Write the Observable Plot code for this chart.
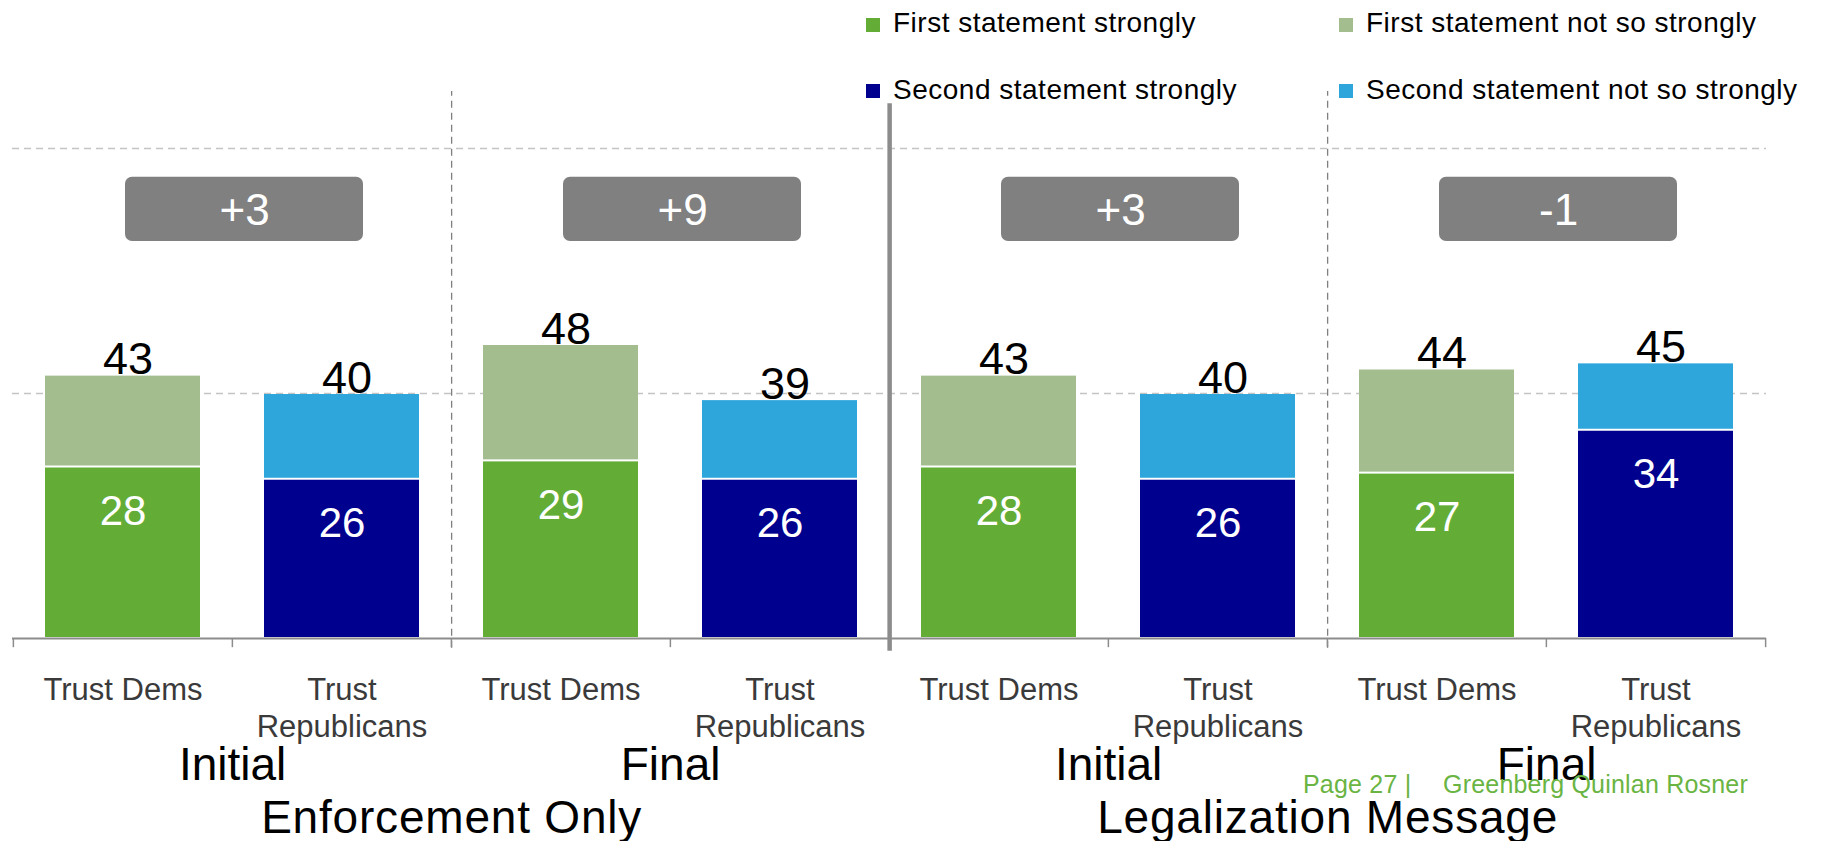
<!DOCTYPE html>
<html>
<head>
<meta charset="utf-8">
<script src="https://cdn.jsdelivr.net/npm/d3@7"></script>
<script src="https://cdn.jsdelivr.net/npm/@observablehq/plot@0.6"></script>
<style>
  html, body { margin: 0; padding: 0; background: #fff; }
  #wrap { position: relative; width: 1822px; height: 841px; overflow: hidden; font-family: "Liberation Sans", Arial, sans-serif; }
  #chart { position: absolute; left: 0; top: 0; }
  .leg { position: absolute; font-size: 28px; line-height: 28px; color: #000; white-space: nowrap; letter-spacing: 0.5px; }
  .sw { position: absolute; width: 14px; height: 14px; }
  .foot { position: absolute; font-size: 25px; line-height: 25px; color: #6ab443; white-space: nowrap; letter-spacing: 0.2px; }
</style>
</head>
<body>
<div id="wrap"><div id="chart"></div></div>
<script>
// ---- data ----
const groups = ["Enforcement Only", "Legalization Message"];
const phases = ["Initial", "Final"];
const parties = ["Trust Dems", "Trust\nRepublicans"];
const series = ["First statement strongly", "First statement not so strongly", "Second statement strongly", "Second statement not so strongly"];
const colors = ["#63ad37", "#a3bd8f", "#00008f", "#2ea6dc"];
const strongly = [28, 26, 29, 26, 28, 26, 27, 34];
const notSoStrongly = [15, 14, 19, 13, 15, 14, 17, 11];
const totals = [43, 40, 48, 39, 43, 40, 44, 45];
const diffs = ["+3", "+9", "+3", "-1"];
const gridValues = [40, 80];
const footerPage = "Page 27 |";
const footerFirm = "Greenberg Quinlan Rosner";

// ---- layout ----
const W = 1822, H = 841, mL = 12, mR = 56, mT = 148, mB = 203;

const keys = [];
groups.forEach(g => phases.forEach(p => parties.forEach(t => keys.push({g, p, t, key: `${g}|${p}|${t}`}))));
const step = (W - mL - mR) / keys.length;

const rows = keys.flatMap((k, i) => {
  const first = i % 2 === 0;
  return [
    {key: k.key, value: strongly[i], series: series[first ? 0 : 2]},
    {key: k.key, value: notSoStrongly[i], series: series[first ? 1 : 3]}
  ];
});
const labels = keys.map((k, i) => ({...k, strong: strongly[i], total: totals[i]}));
const pairs = keys.filter((k, i) => i % 2 === 0).map((k, j) => ({...k, diff: diffs[j]}));
const halves = [keys[1], keys[5]];
const thick = [keys[3]];
const axisGray = "#8c8c8c";

const chart = Plot.plot({
  width: W, height: H,
  marginLeft: mL, marginRight: mR, marginTop: mT, marginBottom: mB,
  x: {domain: keys.map(d => d.key), paddingInner: 0.29, paddingOuter: 0.145, axis: null},
  y: {domain: [0, 80], axis: null},
  color: {domain: series, range: colors},
  style: {fontFamily: "Liberation Sans, Arial, sans-serif", background: "white", overflow: "visible"},
  marks: [
    Plot.ruleY(gridValues, {stroke: "#c4c4c4", strokeWidth: 1.3, strokeDasharray: "7,5"}),
    Plot.ruleX(halves, {x: "key", dx: step / 2, y1: -1.6, y2: 89.3, stroke: "#7f7f7f", strokeWidth: 1.3, strokeDasharray: "7,5"}),
    Plot.ruleX(thick, {x: "key", dx: step / 2, y1: -2.1, y2: 87.3, stroke: axisGray, strokeWidth: 4.5}),
    Plot.barY(rows, {x: "key", y: "value", fill: "series", insetTop: 1, insetBottom: 1}),
    Plot.ruleY([0], {stroke: axisGray, strokeWidth: 2}),
    Plot.ruleX(keys, {x: "key", dx: -step / 2, y1: 0, y2: -1.5, stroke: axisGray, strokeWidth: 1.5}),
    Plot.ruleX([keys[keys.length - 1]], {x: "key", dx: step / 2, y1: 0, y2: -1.5, stroke: axisGray, strokeWidth: 1.5}),
    Plot.text(labels, {x: "key", y: "total", text: d => String(d.total), fontSize: 45, lineAnchor: "bottom", dx: 5, dy: -1, fill: "#000"}),
    Plot.text(labels, {x: "key", y: "strong", text: d => String(d.strong), fontSize: 42, lineAnchor: "bottom", dy: 58, fill: "#fff"}),
    Plot.text(labels, {x: "key", y: 0, text: "t", fontSize: 31, lineAnchor: "top", lineHeight: 1.2, dy: 35, fill: "#3a3a3a"}),
    Plot.text(pairs, {x: "key", y: 0, text: "p", dx: step / 2, fontSize: 46, lineAnchor: "top", dy: 109, fill: "#000"}),
    Plot.text(halves, {x: "key", y: 0, text: "g", dx: step / 2, fontSize: 46, lineAnchor: "top", dy: 162, fill: "#000"}),
    Plot.barY(pairs, {x: "key", y1: 64.8, y2: 75.3, insetLeft: 80, insetRight: -163, rx: 7, fill: "#808080"}),
    Plot.text(pairs, {x: "key", y: 70, text: "diff", dx: step / 2 + 12, dy: 1, fontSize: 44, lineAnchor: "middle", fill: "#fff"})
  ]
});
d3.select(chart).selectAll("text")
  .filter(function() { return groups.includes(this.textContent); })
  .style("letter-spacing", "0.8px");
document.getElementById("chart").appendChild(chart);

// ---- legend (HTML) ----
const wrap = document.getElementById("wrap");
const legPos = [[866, 0], [1339, 0], [866, 1], [1339, 1]];
series.forEach((s, i) => {
  const [x, r] = legPos[i];
  const sw = document.createElement("div");
  sw.className = "sw";
  sw.style.left = x + "px";
  sw.style.top = (r === 0 ? 17.5 : 84) + "px";
  sw.style.background = colors[i];
  wrap.appendChild(sw);
  const t = document.createElement("div");
  t.className = "leg";
  t.style.left = (x + 27) + "px";
  t.style.top = (r === 0 ? 9.3 : 76.3) + "px";
  t.textContent = s;
  wrap.appendChild(t);
});
// ---- footer ----
[[footerPage, 1303], [footerFirm, 1443]].forEach(([txt, x]) => {
  const f = document.createElement("div");
  f.className = "foot";
  f.style.left = x + "px";
  f.style.top = "772px";
  f.textContent = txt;
  wrap.appendChild(f);
});
</script>
</body>
</html>
